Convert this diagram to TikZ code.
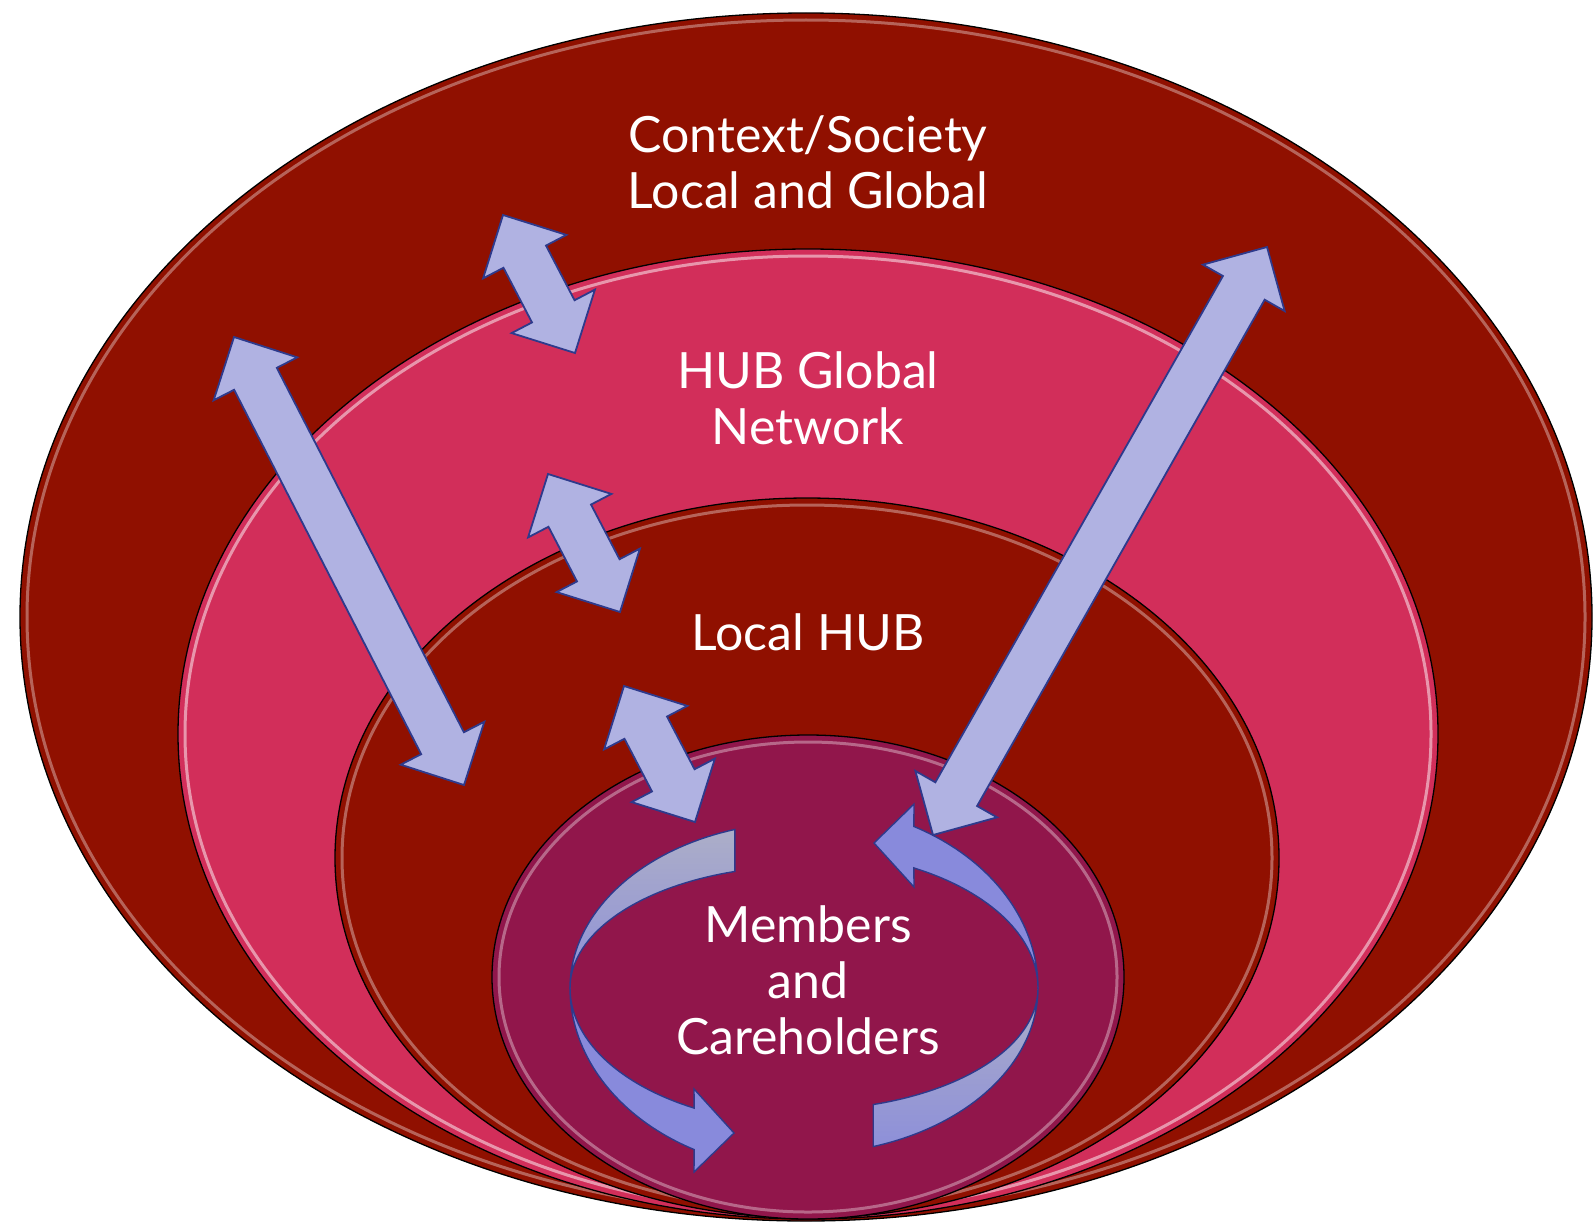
\documentclass[tikz,border=0pt]{standalone}
\usepackage{fontspec}
\setmainfont{Lato}
\usetikzlibrary{calc}

\definecolor{society}{RGB}{144,16,0}
\definecolor{globalnet}{RGB}{210,46,90}
\definecolor{localhub}{RGB}{144,16,0}
\definecolor{members}{RGB}{145,22,75}
\definecolor{linkfill}{RGB}{176,178,226}
\definecolor{linkdraw}{RGB}{46,58,140}
\definecolor{loopblue}{RGB}{136,138,220}
\definecolor{loopgrey}{RGB}{172,174,200}

\tikzset{
ringedge/.style={draw=black, line width=1.3pt}, % thin outline of each ring
gloss/.style={draw=white, line width=3pt, opacity=0.35}, % light rim just inside
linkarrow/.style={fill=linkfill, draw=linkdraw, line width=1.8pt, line join=miter},
loopside/.style={draw=linkdraw, line width=1.4pt, line join=miter},
layertext/.style={text=white, align=center, font=\fontsize{50}{56}\selectfont},
}

% block arrow with a head at both ends, from tip #1 to tip #2
\newcommand{\linkarrow}[2]{%
  \draw[linkarrow] let \p1=(#1), \p2=(#2), \n1={atan2(\y2-\y1,\x2-\x1)} in
    (#1) -- ($(#1)+(\n1:47pt)+({\n1+90}:47pt)$)
         -- ($(#1)+(\n1:47pt)+({\n1+90}:24pt)$)
         -- ($(#2)+({\n1+180}:47pt)+({\n1+90}:24pt)$)
         -- ($(#2)+({\n1+180}:47pt)+({\n1+90}:47pt)$)
         -- (#2)
         -- ($(#2)+({\n1+180}:47pt)+({\n1-90}:47pt)$)
         -- ($(#2)+({\n1+180}:47pt)+({\n1-90}:24pt)$)
         -- ($(#1)+(\n1:47pt)+({\n1-90}:24pt)$)
         -- ($(#1)+(\n1:47pt)+({\n1-90}:47pt)$)
         -- cycle;}

% one half of the turning ribbon in the middle
\newcommand{\memberloop}{%
  % upper part, greyish
  \path[loopside, top color=loopgrey, bottom color=loopblue!85!loopgrey]
    plot[variable=\t, domain=252.8:180, samples=40] ({804+234*cos(\t)}, {988+166*sin(\t)})
    -- plot[variable=\t, domain=180:252.8, samples=40] ({804+234*cos(\t)}, {988+122*sin(\t)})
    -- cycle;
  % lower part with the head
  \path[loopside, fill=loopblue]
    plot[variable=\t, domain=180:118, samples=40] ({804+234*cos(\t)}, {988+183*sin(\t)})
    -- (694,1172) -- (734,1133) -- (694,1089)
    -- plot[variable=\t, domain=118:180, samples=40] ({804+234*cos(\t)}, {988+136*sin(\t)})
    -- cycle;}

\begin{document}
\begin{tikzpicture}[x=1pt, y=-1pt]
    \fill[white] (0,0) rectangle (1594,1223);
    \useasboundingbox (0,0) rectangle (1594,1223);

    % the four rings, outermost first
    \draw[ringedge, fill=society] (806,617) ellipse [x radius=786pt, y radius=604pt];
    \draw[gloss] (806,617) ellipse [x radius=779pt, y radius=597pt];
    \draw[ringedge, fill=globalnet] (808,734) ellipse [x radius=630pt, y radius=485pt];
    \draw[gloss, opacity=0.5] (808,734) ellipse [x radius=623pt, y radius=478pt];
    \draw[ringedge, fill=localhub] (807,858) ellipse [x radius=472pt, y radius=360pt];
    \draw[gloss] (807,858) ellipse [x radius=465pt, y radius=353pt];
    \draw[ringedge, fill=members] (808,977) ellipse [x radius=316pt, y radius=242pt];
    \draw[gloss] (808,977) ellipse [x radius=309pt, y radius=235pt];

    \node[layertext] (ctxtext) at (808,162) {Context/Society\\Local and Global};
    \node[layertext] (gnettext) at (808,398) {HUB Global\\Network};
    \node[layertext] (lhubtext) at (808,632) {Local HUB};
    \node[layertext] (membtext) at (808,980) {Members\\and\\Careholders};

    % arrow ends
    \coordinate (ctxup) at (503,215);
    \coordinate (gnetdown) at (575,353);
    \coordinate (ctxleft) at (234,337);
    \coordinate (lhubleft) at (464,785);
    \coordinate (gnetup) at (548,474);
    \coordinate (lhubup) at (620,612);
    \coordinate (lhubin) at (624,686);
    \coordinate (membin) at (695,822);
    \coordinate (ctxright) at (1267,247);
    \coordinate (membright) at (933,835);

    \linkarrow{ctxup}{gnetdown}
    \linkarrow{ctxleft}{lhubleft}
    \linkarrow{gnetup}{lhubup}
    \linkarrow{lhubin}{membin}
    \linkarrow{ctxright}{membright}

    % ribbon around the members
    \memberloop
    \begin{scope}[rotate around={180:(804,988)}]
        \memberloop
    \end{scope}
\end{tikzpicture}
\end{document}
